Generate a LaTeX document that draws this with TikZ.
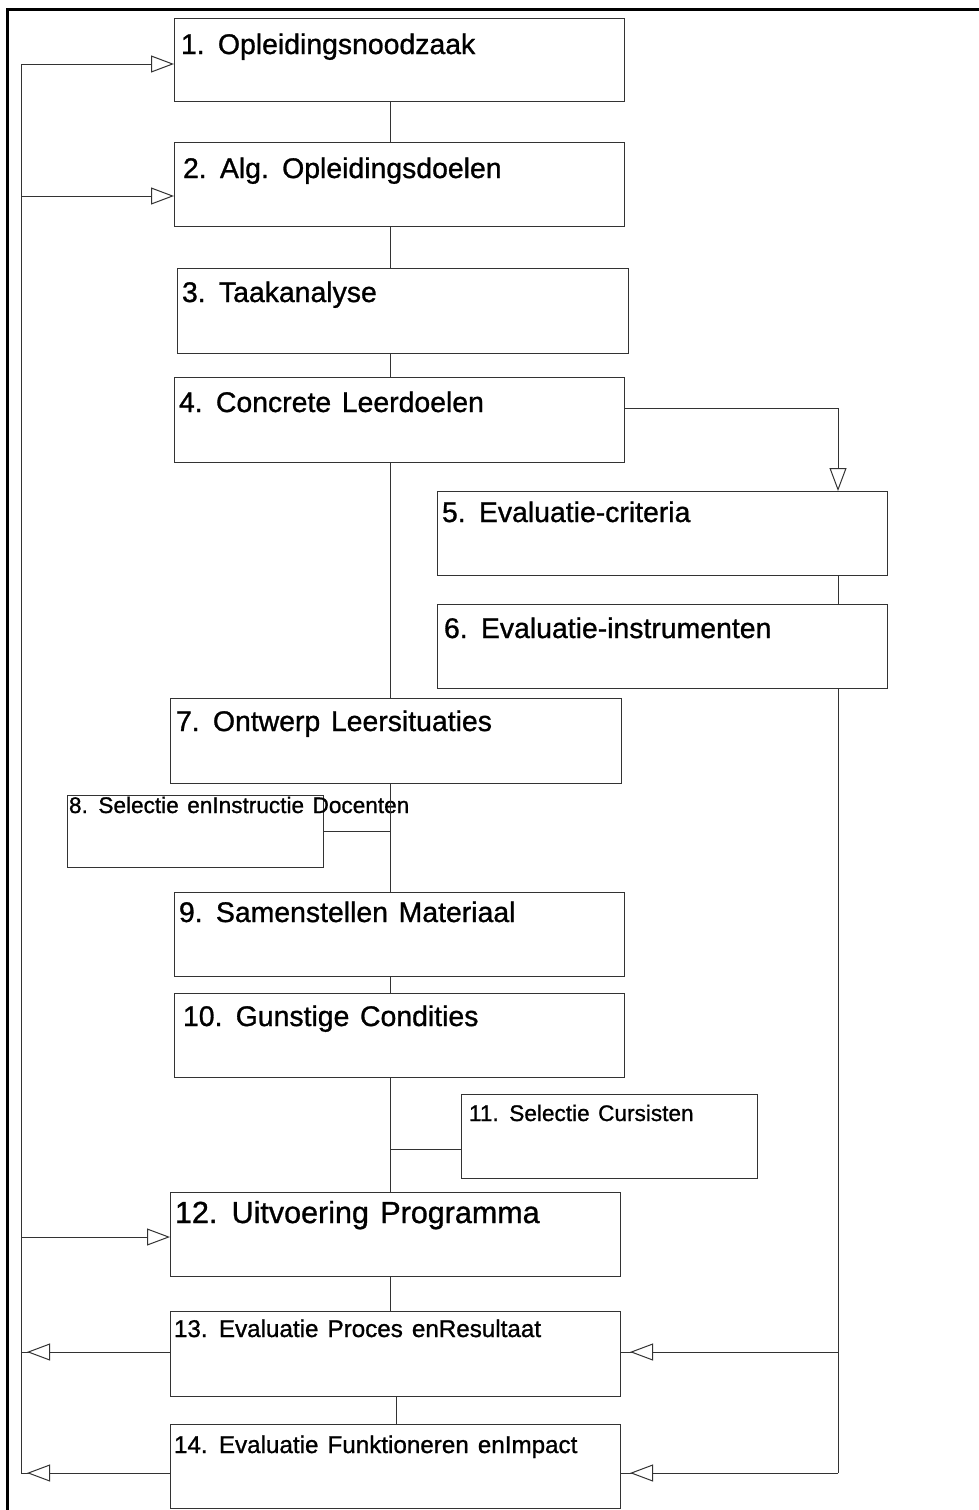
\documentclass[tikz,border=0pt]{standalone}
\usepackage{fontspec}
\setmainfont[WordSpace=1.35, FakeBold=1]{Liberation Sans}
\usepackage{tikz}
\usetikzlibrary{arrows.meta}
\usetikzlibrary{calc}
\newcommand{\bigtxt}{\fontsize{28.4}{34}\selectfont}
\newcommand{\hugetxt}{\fontsize{30.5}{36}\selectfont}
\newcommand{\midtxt}{\fontsize{24.2}{29}\selectfont}
\newcommand{\smalltxt}{\fontsize{22.6}{27}\selectfont}
\tikzset{
  stage/.style={draw=black!80, line width=1pt, rectangle, inner sep=0pt, outer sep=0pt, anchor=north west},
  caption/.style={anchor=base west, inner sep=0pt, outer sep=0pt},
  link/.style={draw=black!80, line width=1pt},
  feed/.style={link, -{Triangle[length=23pt, width=17pt, fill=white]}},
  frame/.style={draw=black, line width=3pt}
}

\begin{document}
\begin{tikzpicture}[x=1pt, y=-1pt]
  \useasboundingbox (0,0) rectangle (978,1510);
  \draw[frame] (7.5,1515) -- (7.5,9) -- (985,9);
  \foreach \n/\x/\y/\w/\h in {1/174/18/450/83, 2/174/142/450/84, 3/177/268/451/85,
      4/174/377/450/85, 5/437/491/450/84, 6/437/604/450/84, 7/170/698/451/85,
      8/67/795/256/72, 9/174/892/450/84, 10/174/993/450/84, 11/461/1094/296/84,
      12/170/1192/450/84, 13/170/1311/450/85, 14/170/1424/450/84}
    \node[stage, minimum width=\w pt, minimum height=\h pt] (s\n) at (\x,\y) {};

  \node[caption, font=\bigtxt] (t1) at (181,54) {1. Opleidingsnoodzaak};
  \node[caption, font=\bigtxt] (t2) at (183,178) {2. Alg. Opleidingsdoelen};
  \node[caption, font=\bigtxt] (t3) at (182,302) {3. Taakanalyse};
  \node[caption, font=\bigtxt] (t4) at (179,412) {4. Concrete Leerdoelen};
  \node[caption, font=\bigtxt] (t5) at (442,522) {5. Evaluatie-criteria};
  \node[caption, font=\bigtxt] (t6) at (444,638) {6. Evaluatie-instrumenten};
  \node[caption, font=\bigtxt] (t7) at (176,731) {7. Ontwerp Leersituaties};
  \node[caption, font=\smalltxt] (t8) at (69,813) {8. Selectie enInstructie Docenten};
  \node[caption, font=\bigtxt] (t9) at (179,922) {9. Samenstellen Materiaal};
  \node[caption, font=\bigtxt] (t10) at (183,1026) {10. Gunstige Condities};
  \node[caption, font=\smalltxt] (t11) at (469,1121) {11. Selectie Cursisten};
  \node[caption, font=\hugetxt] (t12) at (175,1223) {12. Uitvoering Programma};
  \node[caption, font=\midtxt] (t13) at (174,1337) {13. Evaluatie Proces enResultaat};
  \node[caption, font=\midtxt] (t14) at (174,1453) {14. Evaluatie Funktioneren enImpact};

  \coordinate (spine) at (390,0);
  \coordinate (spineb) at (396,0);
  \foreach \a/\b in {1/2, 2/3, 3/4, 4/7, 7/9, 9/10, 10/12, 12/13}
    \draw[link] (s\a.south -| spine) -- (s\b.north -| spine);
  \draw[link] (s13.south -| spineb) -- (s14.north -| spineb);
  \draw[link] (s8.east) -- (s8.east -| spine);
  \coordinate (j11) at (390,1149);
  \draw[link] (j11) -- (j11 -| s11.west);

  \coordinate (r4) at (838,408);
  \coordinate (r13) at (838,1352);
  \coordinate (r14) at (838,1473);
  \draw[feed] (r4 -| s4.east) -| (s5.north -| r4);
  \draw[link] (s5.south -| r4) -- (s6.north -| r4);
  \draw[link] (s6.south -| r4) -- (r14);
  \foreach \n in {13,14} {
    \draw[link] (r\n) -- (r\n -| s\n.east);
    \draw[feed, shorten >=10pt] (r\n) -- (r\n -| s\n.east);
  }

  \coordinate (b1) at (21,64);
  \coordinate (b2) at (21,196);
  \coordinate (b12) at (21,1237);
  \coordinate (b13) at (21,1352);
  \coordinate (b14) at (21,1473);
  \draw[link] (b1) -- (b14);
  \foreach \n in {1,2,12}
    \draw[feed] (b\n) -- (b\n -| s\n.west);
  \foreach \n in {13,14} {
    \draw[link] (b\n -| s\n.west) -- (b\n);
    \draw[feed, shorten >=6pt] (b\n -| s\n.west) -- (b\n);
  }
\end{tikzpicture}
\end{document}
